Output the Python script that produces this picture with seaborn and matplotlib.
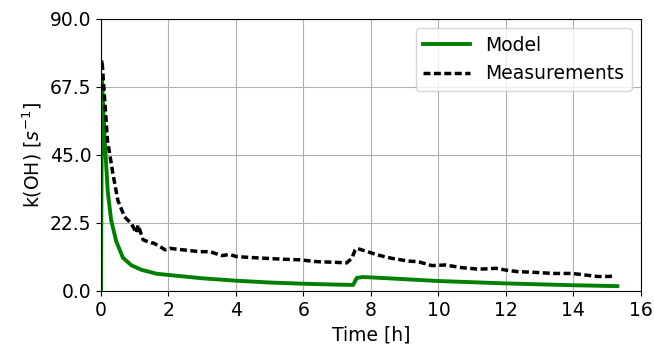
import numpy as np
import pandas as pd
import matplotlib
matplotlib.use("Agg")
import matplotlib.pyplot as plt
import seaborn as sns

# model curve
t_model = [0, 0.03, 0.07, 0.11, 0.2, 0.3, 0.45, 0.65, 0.9, 1.2, 1.65, 2.0, 3.0, 4.0, 5.0, 6.0,
           7.0, 7.47, 7.58, 7.75, 8.0, 9.0, 10.0, 11.0, 12.0, 13.0, 14.0, 15.3]
k_model = [0, 69.5, 60, 50, 33, 23.5, 16.5, 11, 8.5, 7.0, 5.7, 5.3, 4.2, 3.4, 2.8, 2.4,
           2.1, 2.0, 4.3, 4.6, 4.5, 3.9, 3.3, 2.9, 2.5, 2.2, 1.9, 1.6]

t_meas = [0.0, 0.03, 0.09, 0.19, 0.35, 0.5, 0.7, 0.9, 1.05, 1.1, 1.25, 1.5, 1.55, 1.75, 1.9,
          2.04, 2.44, 2.93, 3.23, 3.58, 3.82, 4.0, 4.4, 4.9, 5.4, 5.9, 6.4, 6.9, 7.28, 7.43,
          7.53, 7.58, 7.73, 7.9, 8.2, 8.62, 9.1, 9.4, 9.8, 10.2, 10.7, 11.2, 11.7, 12.0,
          12.35, 12.8, 13.4, 13.96, 14.34, 14.7, 15.08, 15.2]
k_meas = [74, 76.4, 66.5, 50, 39, 30, 24.5, 22.3, 19.2, 21.8, 16.9, 15.9, 15.9, 14.7, 13.6,
          14.1, 13.6, 13.0, 13.0, 11.7, 12.1, 11.4, 11.1, 10.8, 10.5, 10.3, 9.7, 9.5, 9.3, 10.8,
          13.5, 14.1, 13.6, 13.0, 11.9, 10.8, 9.9, 9.7, 8.4, 8.6, 7.7, 7.2, 7.5, 6.9,
          6.4, 6.2, 5.8, 5.8, 5.3, 4.8, 4.8, 5.2]

df_model = pd.DataFrame({"t": t_model, "k": k_model})
df_meas = pd.DataFrame({"t": t_meas, "k": k_meas})

plt.rcParams["font.size"] = 13.5
fig, ax = plt.subplots(figsize=(6.54, 3.51), dpi=100)
fig.subplots_adjust(left=0.1544, right=0.980, top=0.946, bottom=0.171)

sns.lineplot(x="t", y="k", data=df_model, color="green", linewidth=2.8, label="Model", ax=ax)
sns.lineplot(x="t", y="k", data=df_meas, color="black", linewidth=2.5,
             linestyle=(0, (2, 1)), label="Measurements", ax=ax)

ax.set_xlim(0, 16)
ax.set_ylim(0, 90)
ax.set_yticks(np.linspace(0, 90, 5))
ax.set_yticklabels(["0.0", "22.5", "45.0", "67.5", "90.0"])
ax.grid(True)
ax.set_xlabel("Time [h]")
ax.set_ylabel("k(OH) [$s^{-1}$]")
ax.legend(loc="upper right", handlelength=2.5)

plt.savefig("out.png", dpi=100)
